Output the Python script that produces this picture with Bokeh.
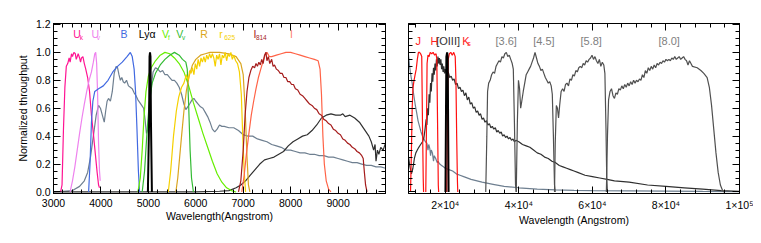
from bokeh.plotting import figure
from bokeh.models import LinearAxis, Range1d, FixedTicker, NumeralTickFormatter, CustomJSTickFormatter
from bokeh.layouts import row
from bokeh.embed import file_html
from bokeh.resources import INLINE
from bokeh.core.properties import value

FONT = "Liberation Sans"

# ---------------- LEFT PANEL DATA (optical) ----------------
UK_WL = [3150, 3180, 3210, 3240, 3270, 3300, 3330, 3350, 3380, 3400, 3430, 3460, 3480, 3500, 3520, 3550, 3570, 3590, 3620, 3650, 3680, 3720, 3760, 3800, 3840, 3880, 3920, 3950, 3970]
UK_T = [0.0, 0.05, 0.45, 0.75, 0.90, 0.92, 0.96, 0.93, 0.99, 0.97, 1.0, 0.99, 0.95, 0.97, 0.99, 0.96, 0.93, 0.96, 0.97, 0.92, 0.88, 0.82, 0.72, 0.55, 0.42, 0.28, 0.14, 0.05, 0.03]

UV_WL = [3350, 3400, 3450, 3500, 3550, 3600, 3650, 3700, 3750, 3800, 3840, 3870, 3890, 3910, 3930, 3950, 3970, 3985]
UV_T = [0.0, 0.08, 0.18, 0.30, 0.42, 0.53, 0.63, 0.72, 0.80, 0.86, 0.93, 0.99, 1.0, 0.92, 0.70, 0.35, 0.15, 0.08]

B_WL = [3740, 3770, 3800, 3830, 3870, 3950, 4050, 4150, 4250, 4350, 4450, 4550, 4620, 4660, 4700, 4730, 4760, 4790, 4815]
B_T = [0.0, 0.2, 0.5, 0.65, 0.72, 0.74, 0.76, 0.80, 0.86, 0.90, 0.93, 0.97, 1.0, 0.97, 0.88, 0.72, 0.45, 0.15, 0.0]

LYA_WL = [4990, 5015, 5025, 5035, 5045, 5055, 5075]
LYA_T = [0.0, 0.5, 0.97, 1.0, 0.97, 0.5, 0.0]

VF_WL = [4780, 4830, 4870, 4910, 4950, 5000, 5060, 5150, 5250, 5350, 5450, 5550, 5650, 5750, 5850, 5950, 6050, 6150, 6250, 6350, 6450, 6550, 6650, 6750, 6850]
VF_T = [0.0, 0.10, 0.30, 0.55, 0.72, 0.83, 0.89, 0.94, 0.98, 1.0, 0.99, 0.96, 0.92, 0.86, 0.76, 0.64, 0.53, 0.42, 0.32, 0.22, 0.13, 0.07, 0.03, 0.01, 0.0]

VV_WL = [4870, 4920, 4970, 5020, 5080, 5150, 5250, 5350, 5450, 5550, 5650, 5720, 5790, 5820, 5850, 5880, 5910, 5950]
VV_T = [0.0, 0.15, 0.42, 0.64, 0.78, 0.85, 0.91, 0.95, 0.98, 1.0, 0.98, 0.95, 0.93, 0.88, 0.62, 0.30, 0.10, 0.0]

R_WL = [5580, 5620, 5660, 5700, 5750, 5800, 5860, 5930, 6000, 6100, 6200, 6300, 6500, 6700, 6850, 6950, 7000, 7040, 7080, 7110, 7140]
R_T = [0.0, 0.10, 0.25, 0.40, 0.58, 0.72, 0.83, 0.91, 0.95, 0.98, 0.99, 1.0, 1.0, 0.99, 0.97, 0.92, 0.84, 0.60, 0.25, 0.05, 0.0]

R625_WL = [5420, 5470, 5530, 5590, 5640, 5700, 5750, 5800, 5840, 5870, 5900, 5930, 5960, 5990, 6020, 6050, 6080, 6110, 6140, 6170, 6200, 6230, 6260, 6290, 6320, 6350, 6380, 6410, 6440, 6470, 6500, 6530, 6560, 6590, 6620, 6650, 6680, 6710, 6740, 6770, 6800, 6840, 6880, 6920, 6960, 6990, 7020, 7050]
R625_T = [0.0, 0.15, 0.40, 0.58, 0.68, 0.75, 0.78, 0.84, 0.80, 0.87, 0.85, 0.89, 0.84, 0.92, 0.88, 0.95, 0.90, 0.96, 0.93, 0.97, 0.93, 0.98, 0.95, 0.99, 0.96, 0.99, 0.96, 0.90, 0.98, 0.95, 0.99, 0.91, 0.98, 0.96, 1.0, 0.94, 0.99, 0.97, 1.0, 0.95, 0.98, 0.94, 0.92, 0.86, 0.70, 0.40, 0.15, 0.0]

I814_WL = [6900, 6950, 7000, 7040, 7080, 7120, 7160, 7200, 7240, 7270, 7300, 7330, 7360, 7390, 7420, 7450, 7480, 7500, 7530, 7560, 7600, 7630, 7660, 7700, 7740, 7780, 7820, 7860, 7900, 7940, 7980, 8020, 8060, 8100, 8150, 8200, 8250, 8300, 8350, 8400, 8450, 8500, 8550, 8600, 8650, 8700, 8750, 8800, 8850, 8900, 8950, 9000, 9050, 9100, 9150, 9200, 9250, 9300, 9350, 9400, 9450, 9500, 9530, 9555, 9580, 9610]
I814_T = [0.0, 0.08, 0.30, 0.55, 0.72, 0.82, 0.87, 0.90, 0.89, 0.92, 0.90, 0.93, 0.91, 0.95, 0.92, 0.98, 1.0, 0.94, 0.97, 0.92, 0.95, 0.90, 0.91, 0.88, 0.87, 0.85, 0.85, 0.82, 0.82, 0.79, 0.79, 0.77, 0.77, 0.74, 0.73, 0.70, 0.69, 0.67, 0.65, 0.63, 0.62, 0.60, 0.59, 0.56, 0.55, 0.52, 0.51, 0.49, 0.48, 0.45, 0.44, 0.42, 0.41, 0.38, 0.37, 0.35, 0.34, 0.32, 0.31, 0.29, 0.28, 0.26, 0.24, 0.14, 0.05, 0.0]

I_WL = [6970, 7020, 7070, 7120, 7170, 7220, 7270, 7320, 7370, 7420, 7470, 7500, 7550, 7600, 7700, 7800, 7900, 8000, 8100, 8200, 8300, 8400, 8500, 8580, 8620, 8650, 8680, 8710, 8750, 8800, 8850]
I_T = [0.0, 0.12, 0.28, 0.42, 0.55, 0.65, 0.74, 0.82, 0.88, 0.94, 0.99, 1.0, 0.97, 0.97, 0.98, 0.99, 1.0, 1.0, 0.99, 0.98, 0.97, 0.96, 0.95, 0.94, 0.88, 0.70, 0.40, 0.20, 0.08, 0.02, 0.0]

SED1_OPT_WL = [3000, 3200, 3400, 3550, 3650, 3720, 3780, 3820, 3860, 3900, 3950, 3990, 4030, 4070, 4100, 4130, 4160, 4200, 4240, 4280, 4320, 4350, 4380, 4410, 4440, 4470, 4500, 4540, 4580, 4620, 4660, 4700, 4740, 4780, 4820, 4860, 4900, 4930, 4960, 4990, 5020, 5060, 5100, 5150, 5200, 5250, 5300, 5350, 5400, 5450, 5500, 5550, 5600, 5650, 5700, 5750, 5790, 5830, 5870, 5920, 5960, 6000, 6050, 6100, 6150, 6200, 6250, 6300, 6350, 6400, 6450, 6500, 6550, 6600, 6700, 6800, 6900, 7000, 7100, 7200, 7300, 7400, 7500, 7600, 7700, 7800, 7900, 8000, 8100, 8200, 8300, 8400, 8500, 8600, 8700, 8800, 8900, 9000, 9100, 9200, 9300, 9400, 9500, 9600, 9700, 9800, 9900, 10000]
SED1_OPT_T = [0.0, 0.005, 0.01, 0.04, 0.08, 0.14, 0.25, 0.35, 0.45, 0.55, 0.62, 0.60, 0.55, 0.50, 0.58, 0.65, 0.67, 0.65, 0.72, 0.85, 0.90, 0.89, 0.84, 0.80, 0.82, 0.79, 0.78, 0.80, 0.76, 0.75, 0.74, 0.71, 0.69, 0.66, 0.64, 0.62, 0.60, 0.52, 0.42, 0.45, 0.60, 0.75, 0.86, 0.89, 0.88, 0.86, 0.87, 0.84, 0.84, 0.82, 0.80, 0.80, 0.78, 0.75, 0.70, 0.63, 0.59, 0.61, 0.63, 0.66, 0.67, 0.65, 0.63, 0.61, 0.60, 0.57, 0.54, 0.50, 0.45, 0.43, 0.45, 0.48, 0.47, 0.47, 0.46, 0.46, 0.44, 0.41, 0.40, 0.40, 0.38, 0.37, 0.36, 0.34, 0.33, 0.32, 0.30, 0.30, 0.29, 0.28, 0.28, 0.27, 0.27, 0.26, 0.26, 0.25, 0.25, 0.24, 0.23, 0.22, 0.21, 0.21, 0.20, 0.19, 0.19, 0.18, 0.18, 0.17]

SED2_OPT_WL = [3000, 6000, 6500, 6700, 6850, 6950, 7050, 7150, 7250, 7350, 7450, 7550, 7650, 7750, 7850, 7950, 8050, 8150, 8250, 8350, 8450, 8550, 8650, 8750, 8850, 8950, 9050, 9100, 9150, 9250, 9350, 9450, 9550, 9650, 9700, 9750, 9780, 9800, 9830, 9860, 9900, 9950, 10000]
SED2_OPT_T = [0.0, 0.0, 0.005, 0.01, 0.03, 0.05, 0.08, 0.12, 0.16, 0.20, 0.23, 0.24, 0.25, 0.27, 0.29, 0.33, 0.36, 0.38, 0.40, 0.41, 0.44, 0.48, 0.53, 0.55, 0.56, 0.55, 0.55, 0.56, 0.54, 0.55, 0.53, 0.50, 0.45, 0.40, 0.36, 0.30, 0.34, 0.22, 0.30, 0.27, 0.32, 0.30, 0.35]

LEFT_LABELS = ["U", "U", "B", "Lyα", "V", "V", "R", "r", "I", "I"]
LEFT_LABEL_X = [3415, 3800, 4411, 4796, 5288, 5589, 6095, 6495, 7217, 7989]
LEFT_LABEL_COLORS = ["#FF1493", "#EE82EE", "#4169E1", "black", "#66EE00", "#33BB33", "#DAA520", "#F5D000", "#A51C1C", "#FF7F6F"]
LEFT_SUBS = ["k", "v", "f", "v", "625", "814"]
LEFT_SUB_X = [3554, 3912, 5415, 5709, 6600, 7267]
LEFT_SUB_COLORS = ["#FF1493", "#EE82EE", "#66EE00", "#33BB33", "#F5D000", "#A51C1C"]

# ---------------- RIGHT PANEL DATA (near/mid IR) ----------------
J_WL = [10550, 10800, 11000, 11200, 11450, 11800, 12100, 12400, 12700, 13000, 13300, 13600, 13800, 14000, 14100]
J_T = [0.0, 0.30, 0.60, 0.74, 0.79, 0.84, 0.88, 0.95, 1.0, 1.0, 0.99, 0.97, 0.5, 0.1, 0.0]

H_WL = [14700, 14900, 15050, 15300, 15600, 15900, 16300, 16700, 17100, 17500, 17700, 17900, 18100, 18200]
H_T = [0.0, 0.5, 0.92, 0.98, 0.97, 1.0, 0.99, 1.0, 0.98, 0.99, 0.95, 0.5, 0.05, 0.0]

KS_WL = [20400, 20600, 20800, 21100, 21500, 21900, 22300, 22700, 22900, 23100, 23300, 23400]
KS_T = [0.0, 0.6, 0.95, 0.99, 1.0, 0.98, 1.0, 0.97, 0.8, 0.4, 0.08, 0.0]

OIII_WL = [20050, 20200, 20300, 20500, 20650, 20750, 20900]
OIII_T = [0.0, 0.6, 0.97, 1.0, 0.97, 0.6, 0.0]

CH1_WL = [31000, 31300, 31500, 31800, 32200, 32600, 33000, 33400, 33800, 34200, 34600, 35000, 35400, 35800, 36200, 36600, 37000, 37400, 37800, 38200, 38500, 38800, 39100, 39300]
CH1_T = [0.0, 0.4, 0.72, 0.78, 0.80, 0.84, 0.86, 0.85, 0.90, 0.92, 0.94, 0.93, 0.97, 0.96, 0.99, 1.0, 0.97, 0.98, 0.95, 0.92, 0.88, 0.50, 0.05, 0.0]

CH2_WL = [39300, 39600, 39900, 40200, 40500, 40800, 41200, 41600, 42000, 42400, 42800, 43200, 43600, 44000, 44400, 44800, 45200, 45600, 46000, 46400, 46800, 47200, 47600, 48000, 48400, 48800, 49100, 49400, 49700, 49900]
CH2_T = [0.0, 0.5, 0.80, 0.74, 0.60, 0.65, 0.72, 0.78, 0.84, 0.86, 0.88, 0.90, 0.93, 0.96, 1.0, 0.96, 0.92, 0.90, 0.87, 0.88, 0.85, 0.82, 0.80, 0.78, 0.79, 0.76, 0.70, 0.40, 0.05, 0.0]

CH3_WL = [49700, 49900, 50200, 50500, 50800, 51100, 51500, 51900, 52300, 52700, 53100, 53500, 53900, 54300, 54700, 55100, 55500, 55900, 56300, 56700, 57100, 57500, 57900, 58300, 58700, 59100, 59500, 59900, 60300, 60700, 61100, 61500, 61900, 62300, 62700, 63100, 63400, 63700, 63900, 64100]
CH3_T = [0.0, 0.35, 0.62, 0.60, 0.53, 0.62, 0.72, 0.74, 0.72, 0.77, 0.78, 0.76, 0.81, 0.80, 0.84, 0.83, 0.87, 0.86, 0.89, 0.90, 0.89, 0.92, 0.91, 0.94, 0.93, 0.95, 0.96, 0.98, 0.95, 0.97, 0.94, 0.92, 0.95, 0.90, 0.93, 0.91, 0.85, 0.45, 0.10, 0.0]

CH4_WL = [63800, 64100, 64400, 64800, 65200, 65600, 66000, 66400, 66800, 67200, 67600, 68000, 68400, 68800, 69200, 69600, 70000, 70400, 70800, 71200, 71600, 72000, 72400, 72800, 73200, 73600, 74000, 74400, 74800, 75200, 75600, 76000, 76400, 76800, 77200, 77600, 78000, 78400, 78800, 79200, 79600, 80000, 80400, 80800, 81200, 81600, 82000, 82400, 82800, 83200, 83600, 84000, 84400, 84800, 85200, 85600, 86000, 86400, 86800, 87200, 88500, 89500, 90300, 91200, 91800, 92400, 93000, 93600, 94200, 94800, 95400, 95800]
CH4_T = [0.0, 0.40, 0.66, 0.72, 0.74, 0.69, 0.67, 0.71, 0.70, 0.74, 0.73, 0.76, 0.74, 0.77, 0.75, 0.78, 0.76, 0.79, 0.77, 0.80, 0.78, 0.80, 0.79, 0.81, 0.80, 0.84, 0.82, 0.87, 0.85, 0.89, 0.87, 0.90, 0.88, 0.91, 0.89, 0.92, 0.91, 0.93, 0.92, 0.94, 0.93, 0.95, 0.94, 0.95, 0.94, 0.96, 0.95, 0.97, 0.95, 0.96, 0.97, 0.95, 0.96, 0.97, 0.95, 0.94, 0.91, 0.94, 0.92, 0.90, 0.89, 0.87, 0.85, 0.82, 0.75, 0.62, 0.45, 0.28, 0.14, 0.05, 0.01, 0.0]

SED1_IR_WL = [10000, 10300, 10600, 11000, 11400, 11800, 12200, 12600, 13000, 13400, 13800, 14200, 14600, 15000, 15300, 15500, 15800, 16000, 16200, 16500, 16800, 17000, 17400, 17800, 18000, 18500, 19000, 19500, 20000, 21000, 22000, 23000, 24000, 25000, 27000, 30000, 33000, 36000, 40000, 45000, 50000, 55000, 60000, 70000, 80000, 90000, 100000]
SED1_IR_T = [0.98, 0.90, 0.84, 0.78, 0.70, 0.63, 0.57, 0.51, 0.47, 0.43, 0.40, 0.38, 0.36, 0.35, 0.30, 0.34, 0.31, 0.26, 0.30, 0.28, 0.22, 0.26, 0.24, 0.21, 0.22, 0.20, 0.19, 0.18, 0.17, 0.16, 0.15, 0.13, 0.12, 0.11, 0.09, 0.07, 0.055, 0.04, 0.03, 0.02, 0.015, 0.012, 0.01, 0.008, 0.006, 0.004, 0.003]

SED2_IR_WL = [10000, 10400, 10800, 11200, 11600, 12000, 12400, 12800, 13300, 13800, 14200, 14500, 14800, 15000, 15200, 15400, 15600, 15800, 16000, 16200, 16400, 16600, 16800, 17000, 17200, 17400, 17600, 17800, 18000, 18200, 18400, 18600, 18800, 19000, 19200, 19400, 19600, 19800, 20000, 20400, 20800, 21200, 21600, 22000, 22400, 22800, 23200, 23600, 24000, 24400, 24800, 25200, 25600, 26000, 26400, 26800, 27200, 27600, 28000, 28400, 28800, 29200, 29600, 30000, 30400, 30800, 31200, 31600, 32000, 32400, 32800, 33200, 33600, 34000, 34400, 34800, 35200, 35600, 36000, 36400, 36800, 37200, 37600, 38000, 38400, 38800, 39200, 40000, 41000, 42000, 43000, 44000, 45000, 46000, 47000, 48000, 49000, 50000, 51000, 52000, 53000, 54000, 55000, 56000, 58000, 60000, 62000, 64000, 66000, 70000, 75000, 80000, 85000, 90000, 95000, 100000]
SED2_IR_T = [0.25, 0.18, 0.13, 0.17, 0.24, 0.28, 0.30, 0.32, 0.34, 0.36, 0.39, 0.45, 0.52, 0.48, 0.60, 0.55, 0.70, 0.64, 0.78, 0.72, 0.85, 0.79, 0.89, 0.84, 0.92, 0.87, 0.95, 0.90, 0.97, 0.92, 0.96, 0.91, 0.95, 0.88, 0.92, 0.86, 0.90, 0.85, 0.88, 0.84, 0.86, 0.82, 0.83, 0.80, 0.81, 0.77, 0.78, 0.74, 0.75, 0.72, 0.73, 0.69, 0.71, 0.66, 0.68, 0.63, 0.64, 0.60, 0.61, 0.57, 0.58, 0.55, 0.56, 0.52, 0.53, 0.50, 0.51, 0.48, 0.49, 0.46, 0.47, 0.45, 0.46, 0.43, 0.44, 0.42, 0.43, 0.40, 0.41, 0.39, 0.40, 0.38, 0.39, 0.37, 0.38, 0.36, 0.37, 0.36, 0.34, 0.33, 0.32, 0.30, 0.28, 0.27, 0.25, 0.24, 0.22, 0.21, 0.19, 0.18, 0.17, 0.16, 0.15, 0.14, 0.12, 0.11, 0.10, 0.09, 0.08, 0.07, 0.05, 0.04, 0.03, 0.02, 0.01, 0.005]

RIGHT_LABELS = ["J", "H", "[OIII]", "K", "[3.6]", "[4.5]", "[5.8]", "[8.0]"]
RIGHT_LABEL_X = [11903, 15982, 17532, 24601, 33655, 43906, 56767, 77975]
RIGHT_LABEL_COLORS = ["#FF2020", "#FF2020", "#333333", "#FF2020", "#808080", "#808080", "#808080", "#808080"]
RIGHT_SUBS = ["s"]
RIGHT_SUB_X = [25960]
RIGHT_SUB_COLORS = ["#FF2020"]

LEFT_XTICKS = [3000, 4000, 5000, 6000, 7000, 8000, 9000]
LEFT_XMINOR = list(range(3000, 10001, 200))
RIGHT_XTICKS = [20000, 40000, 60000, 80000, 100000]
RIGHT_XTICK_LABELS = {20000: "2×10⁴", 40000: "4×10⁴", 60000: "6×10⁴", 80000: "8×10⁴", 100000: "1×10⁵"}
RIGHT_XMINOR = list(range(12000, 100001, 4000))
YTICKS = [0.0, 0.2, 0.4, 0.6, 0.8, 1.0, 1.2]
YMINOR = [i * 0.05 for i in range(0, 25)]


def style_axis(ax, ticks, minor, show_labels):
    ax.ticker = FixedTicker(ticks=ticks, minor_ticks=minor)
    ax.major_tick_in = 7
    ax.major_tick_out = 0
    ax.minor_tick_in = 4
    ax.minor_tick_out = 0
    ax.axis_line_color = "black"
    ax.major_tick_line_color = "black"
    ax.minor_tick_line_color = "black"
    ax.major_label_text_font = FONT
    ax.major_label_text_font_size = "10.5px"
    ax.major_label_text_color = "black"
    ax.axis_label_text_font = FONT
    ax.axis_label_text_font_size = "10.5px"
    ax.axis_label_text_font_style = "normal"
    ax.axis_label_text_color = "black"
    if not show_labels:
        ax.formatter = CustomJSTickFormatter(code="return ''")
        ax.major_label_standoff = 0


def make_fig(width, xr, bl, br):
    p = figure(width=width, height=235, x_range=xr, y_range=Range1d(-0.011, 1.207),
               output_backend="svg", toolbar_location=None,
               min_border_left=bl, min_border_right=br, min_border_top=23, min_border_bottom=42)
    p.xgrid.visible = False
    p.ygrid.visible = False
    p.outline_line_color = "black"
    p.add_layout(LinearAxis(), "above")
    p.add_layout(LinearAxis(), "right")
    return p


# ---------- left figure ----------
p1 = make_fig(395, Range1d(3000, 10000), 53, 10)
style_axis(p1.below[0], LEFT_XTICKS, LEFT_XMINOR, True)
p1.below[0].major_label_standoff = 5
p1.below[0].axis_label = "Wavelength(Angstrom)"
p1.below[0].axis_label_standoff = 0
style_axis(p1.above[0], LEFT_XTICKS, LEFT_XMINOR, False)
style_axis(p1.left[0], YTICKS, YMINOR, True)
p1.left[0].formatter = NumeralTickFormatter(format="0.0")
p1.left[0].major_label_standoff = 3
p1.left[0].axis_label = "Normalized throughput"
p1.left[0].axis_label_standoff = 4
style_axis(p1.right[0], YTICKS, YMINOR, False)

lw = 1.2
p1.line(SED1_OPT_WL, SED1_OPT_T, line_color="#6E7F90", line_width=lw)
p1.line(SED2_OPT_WL, SED2_OPT_T, line_color="#303030", line_width=lw)
p1.line(UK_WL, UK_T, line_color="#FF1493", line_width=lw)
p1.line(UV_WL, UV_T, line_color="#EE82EE", line_width=lw)
p1.line(B_WL, B_T, line_color="#4169E1", line_width=lw)
p1.line(VF_WL, VF_T, line_color="#66EE00", line_width=lw)
p1.line(VV_WL, VV_T, line_color="#33BB33", line_width=lw)
p1.line(R_WL, R_T, line_color="#DAA520", line_width=lw)
p1.line(R625_WL, R625_T, line_color="#F5D000", line_width=lw)
p1.line(I_WL, I_T, line_color="#FF6347", line_width=lw)
p1.line(I814_WL, I814_T, line_color="#A51C1C", line_width=lw)
p1.line(LYA_WL, LYA_T, line_color="black", line_width=2)

p1.text(x=LEFT_LABEL_X, y=1.13, text=LEFT_LABELS, text_color=LEFT_LABEL_COLORS,
        text_font=value(FONT), text_font_size="10.5px", text_align="left", text_baseline="middle")
p1.text(x=LEFT_SUB_X, y=1.13, text=LEFT_SUBS, text_color=LEFT_SUB_COLORS,
        text_font=value(FONT), text_font_size="6.5px", text_align="left", text_baseline="middle", y_offset=3)

# ---------- right figure ----------
p2 = make_fig(358, Range1d(10000, 100000), 13, 14)
style_axis(p2.below[0], RIGHT_XTICKS, RIGHT_XMINOR, True)
p2.below[0].major_label_overrides = RIGHT_XTICK_LABELS
p2.below[0].major_label_standoff = 5
p2.below[0].axis_label = "Wavelength (Angstrom)"
p2.below[0].axis_label_standoff = 0
style_axis(p2.above[0], RIGHT_XTICKS, RIGHT_XMINOR, False)
style_axis(p2.left[0], YTICKS, YMINOR, False)
style_axis(p2.right[0], YTICKS, YMINOR, False)

p2.line(SED1_IR_WL, SED1_IR_T, line_color="#6E7F90", line_width=lw)
p2.line(SED2_IR_WL, SED2_IR_T, line_color="#303030", line_width=lw)
for wl, t in [(CH1_WL, CH1_T), (CH2_WL, CH2_T), (CH3_WL, CH3_T), (CH4_WL, CH4_T)]:
    p2.line(wl, t, line_color="#505050", line_width=lw)
p2.line(J_WL, J_T, line_color="#FF1010", line_width=lw)
p2.line(H_WL, H_T, line_color="#FF1010", line_width=lw)
p2.line(KS_WL, KS_T, line_color="#FF1010", line_width=lw)
p2.line(OIII_WL, OIII_T, line_color="black", line_width=2)

p2.text(x=RIGHT_LABEL_X, y=1.085, text=RIGHT_LABELS, text_color=RIGHT_LABEL_COLORS,
        text_font=value(FONT), text_font_size="11px", text_align="left", text_baseline="middle")
p2.text(x=RIGHT_SUB_X, y=1.085, text=RIGHT_SUBS, text_color=RIGHT_SUB_COLORS,
        text_font=value(FONT), text_font_size="7px", text_align="left", text_baseline="middle", y_offset=3)

layout = row(p1, p2)
open("out.html", "w").write(file_html(layout, INLINE))
